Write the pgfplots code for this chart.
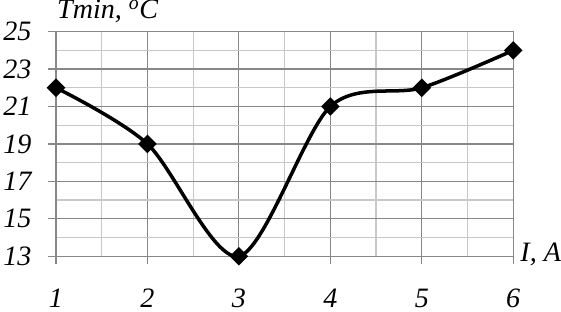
\documentclass[border=0pt]{standalone}
\usepackage{fontspec}
\setmainfont{Liberation Serif}
\usepackage{pgfplots}
\pgfplotsset{compat=1.18}
\definecolor{majg}{RGB}{135,135,135}
\definecolor{ming}{RGB}{200,200,200}
\newcommand\lf{\fontsize{28bp}{32bp}\selectfont\itshape}
\begin{document}
\begin{tikzpicture}
\begin{axis}[
  scale only axis,
  width=456bp, height=224bp,
  xmin=1, xmax=6, ymin=13, ymax=25,
  xtick={1,2,3,4,5,6},
  ytick={13,15,17,19,21,23,25},
  minor xtick={1.5,2.5,3.5,4.5,5.5},
  minor ytick={14,16,18,20,22,24},
  grid=both,
  major grid style={majg, line width=1.2bp},
  minor grid style={ming, line width=1.2bp},
  axis line style={majg, line width=1.2bp},
  tick style={majg, line width=1.2bp},
  major tick length=8bp,
  minor tick length=0pt,
  tick align=outside,
  xtick pos=bottom, ytick pos=left,
  /pgf/number format/assume math mode=true,
  tick label style={font=\lf, text=black},
  xticklabel style={yshift=-21bp},
  yticklabel style={xshift=-13bp},
  clip=false,
]
\addplot[black, line width=3.5bp, smooth, tension=0.5, mark=square*, mark size=4.8bp, mark options={rotate=45, solid, fill=black}]
  coordinates {(1,22) (2,19) (3,13) (4,21) (5,22) (6,24)};
\node[anchor=base west, font=\lf, inner sep=0pt] at ([xshift=1bp, yshift=13bp]rel axis cs:0,1) {Tmin, \textsuperscript{o}C};
\node[anchor=base west, font=\lf, inner sep=0pt] at ([xshift=7bp, yshift=-5bp]rel axis cs:1,0) {I, A};
\end{axis}
\end{tikzpicture}
\end{document}
